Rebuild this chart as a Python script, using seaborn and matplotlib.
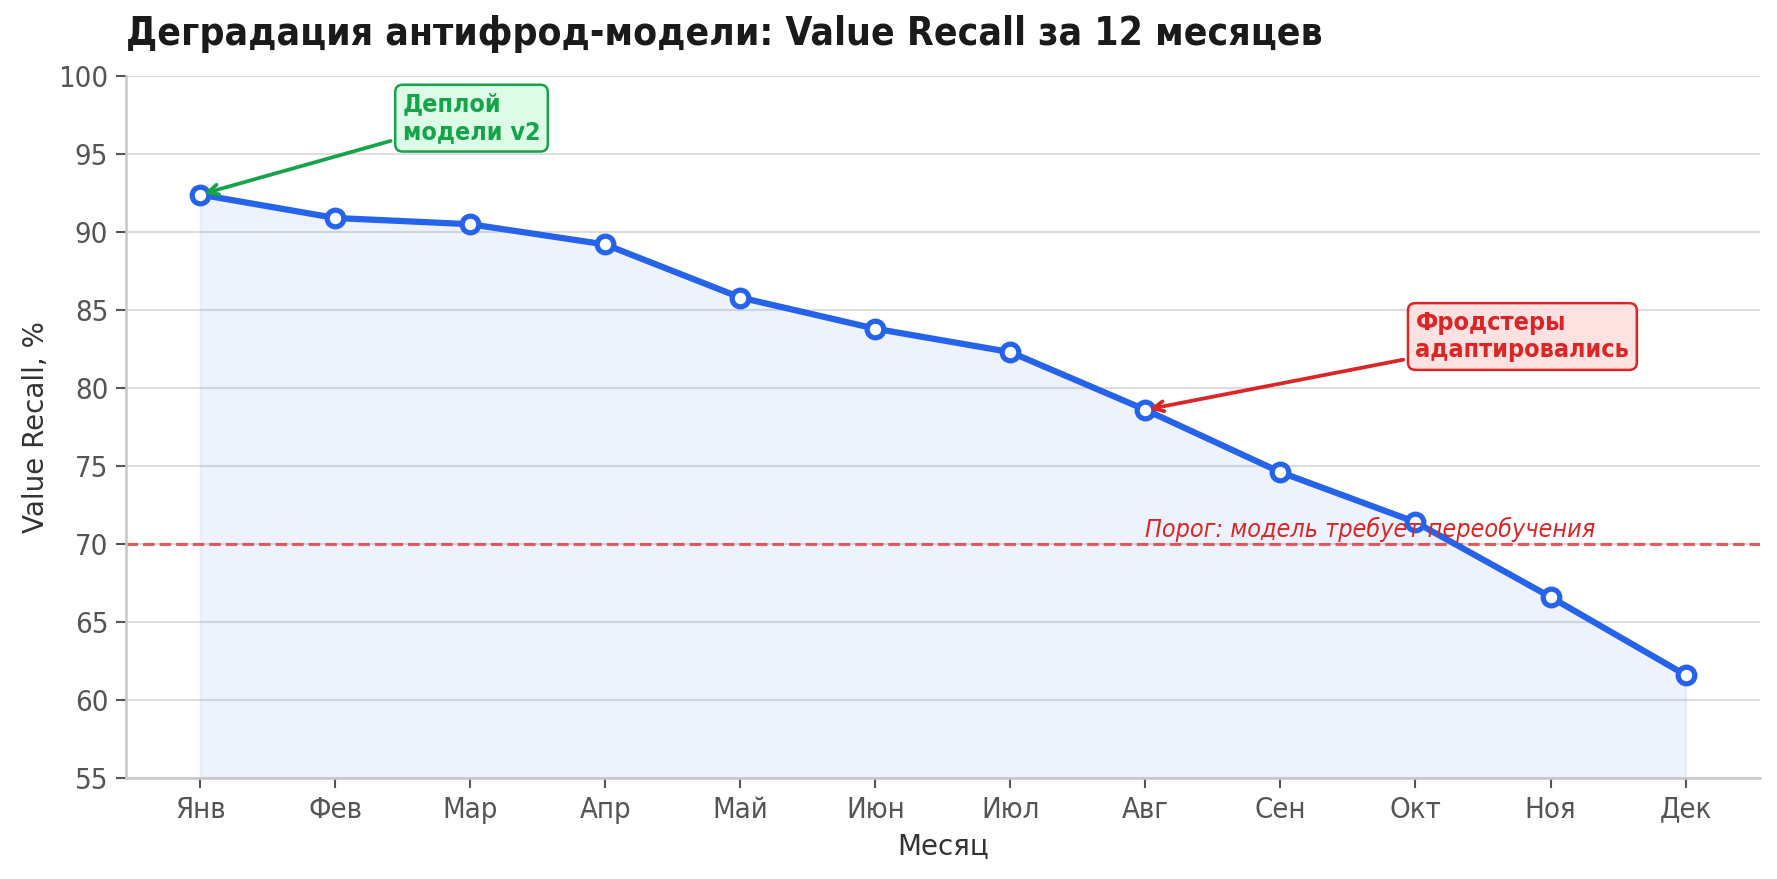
import matplotlib
matplotlib.use("Agg")
import matplotlib.pyplot as plt
import seaborn as sns
import pandas as pd
import numpy as np

months = ['Янв', 'Фев', 'Мар', 'Апр', 'Май', 'Июн', 'Июл', 'Авг', 'Сен', 'Окт', 'Ноя', 'Дек']
recall = [92.4, 90.9, 90.5, 89.2, 85.8, 83.8, 82.3, 78.6, 74.6, 71.4, 66.6, 61.6]
threshold = 70

sns.set_theme(style='ticks')
plt.rcParams['font.family'] = ['DejaVu Sans']

df = pd.DataFrame({'idx': np.arange(len(months)), 'month': months, 'recall': recall})

fig = plt.figure(figsize=(11.853, 5.86), dpi=150)
ax = fig.add_axes([0.0708, 0.115, 0.919, 0.7985])

blue = '#2563EB'
ax.fill_between(df['idx'], df['recall'], 55, color=blue, alpha=0.08, zorder=1)
sns.lineplot(data=df, x='idx', y='recall', ax=ax, color=blue, linewidth=3,
             marker='o', markersize=8, markerfacecolor='white',
             markeredgecolor=blue, markeredgewidth=2.5, zorder=3)

ax.axhline(threshold, color='#DC2626', linestyle='--', linewidth=1.5, alpha=0.7, zorder=2)
ax.text(7, threshold + 0.15, 'Порог: модель требует переобучения', color='#DC2626',
        fontsize=12, style='italic', fontstretch='condensed', ha='left', va='bottom')

ax.annotate('Деплой\nмодели v2', xy=(0, recall[0]), xytext=(1.5, 97.3),
            fontsize=12, fontweight='bold', color='#16A34A', fontstretch='condensed',
            ha='left', va='center',
            bbox=dict(boxstyle='round,pad=0.3', facecolor='#DCFCE7', edgecolor='#16A34A', linewidth=1.2),
            arrowprops=dict(arrowstyle='->', color='#16A34A', lw=1.8))
ax.annotate('Фродстеры\nадаптировались', xy=(7, recall[7]), xytext=(9.0, 83.3),
            fontsize=12, fontweight='bold', color='#DC2626', fontstretch='condensed',
            ha='left', va='center',
            bbox=dict(boxstyle='round,pad=0.3', facecolor='#FEE2E2', edgecolor='#DC2626', linewidth=1.2),
            arrowprops=dict(arrowstyle='->', color='#DC2626', lw=1.8))

ax.set_xlim(-0.55, 11.55)
ax.set_ylim(55, 100)
ax.set_xticks(df['idx'])
ax.set_xticklabels(months)
ax.set_yticks(np.arange(55, 101, 5))
for lab in ax.get_xticklabels() + ax.get_yticklabels():
    lab.set_fontstretch('condensed')
ax.tick_params(axis='both', labelsize=14, colors='#555555', length=5, width=1)
ax.yaxis.grid(True, color='#DDDDE0', linewidth=1)
ax.set_axisbelow(True)
sns.despine(ax=ax)
for s in ['left', 'bottom']:
    ax.spines[s].set_color('#C8C8C8')

ax.set_xlabel('Месяц', fontsize=13.3, color='#333333')
ax.set_ylabel('Value Recall, %', fontsize=13.3, color='#333333')
ax.set_title('Деградация антифрод-модели: Value Recall за 12 месяцев', loc='left',
             fontsize=18.7, fontweight='bold', color='#1A1A1A', fontstretch='condensed', pad=15)

fig.savefig('out.png', dpi=150)
